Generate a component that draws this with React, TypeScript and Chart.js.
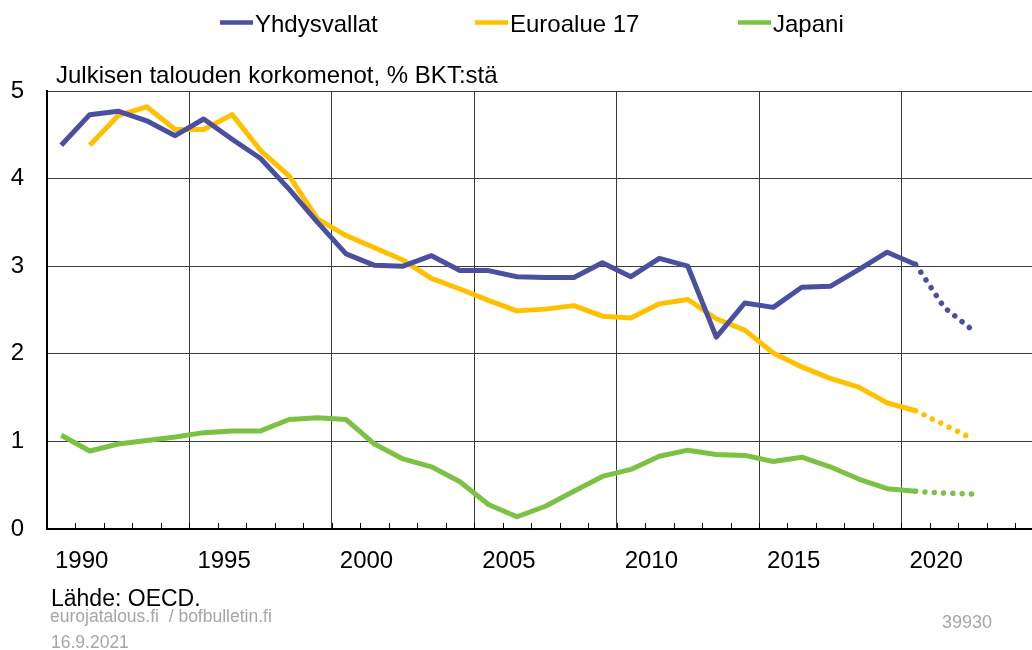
import React, { useEffect, useRef } from "react";
import { Chart, registerables } from "chart.js";

Chart.register(...registerables);

// ---- data ----
const years = [
  1989, 1990, 1991, 1992, 1993, 1994, 1995, 1996, 1997, 1998, 1999, 2000,
  2001, 2002, 2003, 2004, 2005, 2006, 2007, 2008, 2009, 2010, 2011, 2012,
  2013, 2014, 2015, 2016, 2017, 2018, 2019,
];
const usValues = [
  4.38, 4.73, 4.77, 4.66, 4.49, 4.68, 4.45, 4.23, 3.88, 3.5, 3.14, 3.01,
  3.0, 3.12, 2.95, 2.95, 2.88, 2.87, 2.87, 3.04, 2.88, 3.09, 3.0, 2.19,
  2.58, 2.53, 2.76, 2.77, 2.96, 3.16, 3.02,
];
const euroValues = [
  null, 4.38, 4.72, 4.82, 4.56, 4.56, 4.73, 4.32, 4.03, 3.54, 3.35, 3.21,
  3.07, 2.86, 2.74, 2.61, 2.49, 2.51, 2.55, 2.43, 2.41, 2.57, 2.62, 2.4,
  2.27, 2.01, 1.85, 1.72, 1.62, 1.44, 1.35,
];
const japanValues = [
  1.07, 0.89, 0.97, 1.01, 1.05, 1.1, 1.12, 1.12, 1.25, 1.27, 1.25, 0.97,
  0.8, 0.71, 0.54, 0.28, 0.14, 0.26, 0.43, 0.6, 0.68, 0.83, 0.9, 0.85,
  0.84, 0.77, 0.82, 0.71, 0.57, 0.46, 0.43,
];
const projectionYears = [2019, 2020, 2021];
const usProjection = [3.02, 2.53, 2.27];
const euroProjection = [1.35, 1.19, 1.03];
const japanProjection = [0.43, 0.41, 0.4];

const seriesLabels = ["Yhdysvallat", "Euroalue 17", "Japani"];
const seriesColors = ["#4B4FA0", "#FFC000", "#7CC242"];

const xLabelYears = [1990, 1995, 2000, 2005, 2010, 2015, 2020];
const xGridBoundaries = [1993.5, 1998.5, 2003.5, 2008.5, 2013.5, 2018.5];
const xMinorBoundaries = [
  1989.5, 1990.5, 1991.5, 1992.5, 1993.5, 1994.5, 1995.5, 1996.5, 1997.5,
  1998.5, 1999.5, 2000.5, 2001.5, 2002.5, 2003.5, 2004.5, 2005.5, 2006.5,
  2007.5, 2008.5, 2009.5, 2010.5, 2011.5, 2012.5, 2013.5, 2014.5, 2015.5,
  2016.5, 2017.5, 2018.5, 2019.5, 2020.5, 2021.5, 2022.5,
];

const titleText = "Julkisen talouden korkomenot, % BKT:stä";
const sourceText = "Lähde: OECD.";
const siteText = "eurojatalous.fi  / bofbulletin.fi";
const dateText = "16.9.2021";
const idText = "39930";

const FONT = "'Liberation Sans', Arial, Helvetica, sans-serif";

function toPoints(xs: number[], ys: (number | null)[]) {
  return xs.map((x, i) => ({ x, y: ys[i] }));
}

const textPlugin = {
  id: "textPlugin",
  afterDraw(chart: any) {
    const ctx = chart.ctx as CanvasRenderingContext2D;
    const area = chart.chartArea;
    const xs = chart.scales.x;
    ctx.save();

    // inner minor tick marks on the x axis
    ctx.strokeStyle = "#000";
    ctx.lineWidth = 1;
    for (const v of xMinorBoundaries) {
      const px = Math.round(xs.getPixelForValue(v)) + 0.5;
      if (px > area.right) continue;
      ctx.beginPath();
      ctx.moveTo(px, area.bottom);
      ctx.lineTo(px, area.bottom - 6);
      ctx.stroke();
    }

    // legend
    const legendStarts = [220, 475, 738];
    ctx.font = `24px ${FONT}`;
    ctx.textBaseline = "alphabetic";
    ctx.textAlign = "left";
    for (let i = 0; i < 3; i++) {
      const ds = chart.data.datasets[i];
      const x0 = legendStarts[i];
      ctx.strokeStyle = ds.borderColor;
      ctx.lineWidth = 4.5;
      ctx.lineCap = "butt";
      ctx.beginPath();
      ctx.moveTo(x0, 22.5);
      ctx.lineTo(x0 + 33, 22.5);
      ctx.stroke();
      ctx.fillStyle = "#000";
      ctx.fillText(ds.label, x0 + 35, 31.5);
    }

    // title
    ctx.fillStyle = "#000";
    ctx.font = `24px ${FONT}`;
    ctx.fillText(titleText, 56, 82.5);

    // footer
    ctx.font = `23px ${FONT}`;
    ctx.fillStyle = "#000";
    ctx.fillText(sourceText, 51, 605.5);
    ctx.font = `17.5px ${FONT}`;
    ctx.fillStyle = "#a6a6a6";
    ctx.fillText(siteText, 50, 622);
    ctx.fillText(dateText, 51, 648);
    ctx.font = `18px ${FONT}`;
    ctx.fillText(idText, 942, 628);

    ctx.restore();
  },
};

export default function App() {
  const canvasRef = useRef<HTMLCanvasElement | null>(null);

  useEffect(() => {
    if (!canvasRef.current) return;
    const solid = (i: number, values: (number | null)[]) => ({
      label: seriesLabels[i],
      data: toPoints(years, values),
      borderColor: seriesColors[i],
      backgroundColor: seriesColors[i],
      borderWidth: 5,
      pointRadius: 0,
      tension: 0,
      borderJoinStyle: "round" as const,
      borderCapStyle: "butt" as const,
      spanGaps: false,
    });
    const dotted = (i: number, values: number[]) => ({
      label: seriesLabels[i] + " ennuste",
      data: toPoints(projectionYears, values),
      borderColor: seriesColors[i],
      backgroundColor: seriesColors[i],
      borderWidth: 5.5,
      borderDash: [0.01, 9.3],
      borderCapStyle: "round" as const,
      pointRadius: 0,
      tension: 0,
    });

    const chart = new Chart(canvasRef.current, {
      type: "line",
      data: {
        datasets: [
          solid(0, usValues),
          solid(1, euroValues),
          solid(2, japanValues),
          dotted(0, usProjection),
          dotted(1, euroProjection),
          dotted(2, japanProjection),
        ],
      },
      options: {
        responsive: false,
        animation: false,
        devicePixelRatio: 1,
        layout: { padding: { top: 91, left: 0, right: 0, bottom: 0 } },
        plugins: {
          legend: { display: false },
          tooltip: { enabled: false },
          title: { display: false },
        },
        scales: {
          x: {
            type: "linear",
            min: 1988.5,
            max: 2023.085,
            afterBuildTicks: (scale: any) => {
              const vals = [...xLabelYears, ...xGridBoundaries].sort(
                (a, b) => a - b
              );
              scale.ticks = vals.map((value) => ({ value }));
            },
            afterFit: (scale: any) => {
              scale.height = 121;
            },
            grid: {
              drawTicks: false,
              lineWidth: 1,
              color: (c: any) =>
                c.tick && !Number.isInteger(c.tick.value)
                  ? "#3a3a3a"
                  : "rgba(0,0,0,0)",
            },
            border: { display: true, color: "#000", width: 2 },
            ticks: {
              autoSkip: false,
              maxRotation: 0,
              padding: 18,
              labelOffset: -8,
              color: "#000",
              font: { size: 24, family: FONT },
              callback: (v: any) => (Number.isInteger(v) ? String(v) : ""),
            },
          },
          y: {
            min: 0,
            max: 5,
            afterFit: (scale: any) => {
              scale.width = 47;
            },
            ticks: {
              stepSize: 1,
              padding: 23,
              color: "#000",
              font: { size: 24, family: FONT },
            },
            grid: { color: "#3a3a3a", lineWidth: 1, drawTicks: false },
            border: { display: true, color: "#000", width: 2 },
          },
        },
      },
      plugins: [textPlugin],
    });
    return () => chart.destroy();
  }, []);

  return (
    <div
      style={{
        position: "absolute",
        left: 0,
        top: 0,
        width: 1032,
        height: 650,
        background: "#fff",
        overflow: "hidden",
      }}
    >
      <canvas ref={canvasRef} width={1032} height={650} />
    </div>
  );
}
